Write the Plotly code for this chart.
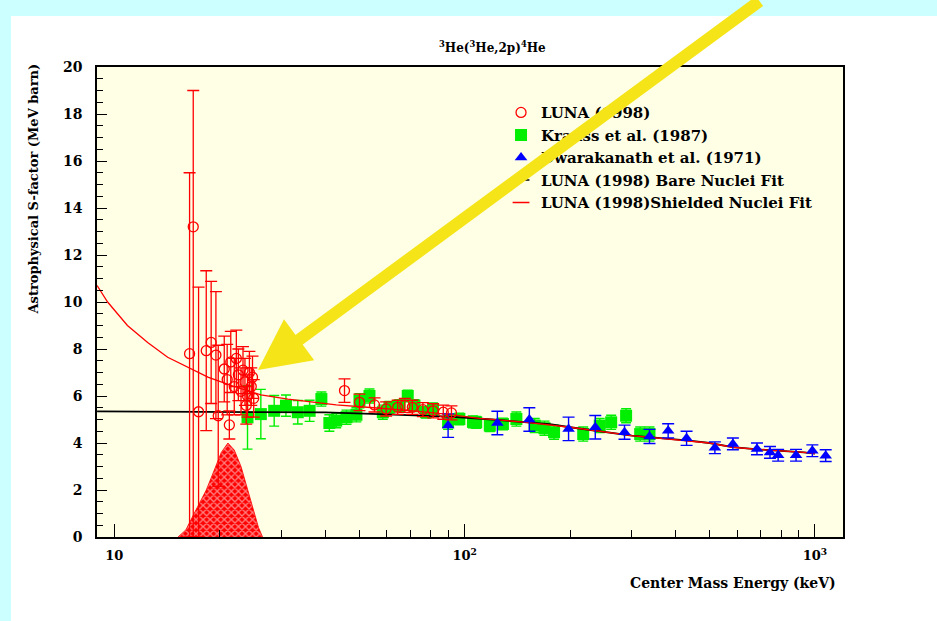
import plotly.graph_objects as go

# ---------------- data ----------------
luna_E = [16.4, 16.8, 17.4, 18.3, 18.9, 19.5, 19.8, 21.3, 20.6, 21.0, 21.5, 22.0, 22.3,
          22.6, 23.0, 23.3, 23.6, 24.0, 24.3, 24.6, 25.0, 24.8, 23.8,
          45.4, 50.1, 55.3, 59.7, 64.4, 67.5, 70.9, 76.0, 81.3, 86.9, 91.7]
luna_S = [7.8, 13.2, 5.33, 7.93, 8.28, 7.74, 5.16, 4.77, 7.15, 6.7, 7.45, 6.4, 7.6,
          6.9, 6.2, 7.1, 6.6, 6.0, 7.0, 6.4, 5.9, 6.8, 5.6,
          6.23, 5.73, 5.62, 5.45, 5.52, 5.6, 5.52, 5.42, 5.37, 5.31, 5.28]
luna_err_up = [7.7, 5.8, 5.3, 3.4, 2.6, 2.7, 3.0, 0.6, 1.4, 1.5, 1.3, 1.2, 1.2,
               1.1, 1.0, 1.0, 1.0, 0.9, 0.9, 0.8, 0.8, 0.9, 0.8,
               0.5, 0.35, 0.3, 0.3, 0.3, 0.3, 0.3, 0.3, 0.3, 0.3, 0.3]
luna_err_dn = [7.8, 13.2, 5.33, 3.4, 2.6, 2.7, 3.0, 0.6, 1.4, 1.5, 1.3, 1.2, 1.2,
               1.1, 1.0, 1.0, 1.0, 0.9, 0.9, 0.8, 0.8, 0.9, 0.8,
               0.5, 0.35, 0.3, 0.3, 0.3, 0.3, 0.3, 0.3, 0.3, 0.3, 0.3]

krauss_E = [24.0, 26.2, 28.6, 30.9, 33.4, 36.1, 39.0, 41.1, 43.0, 46.0, 49.1, 50.1,
            53.5, 58.4, 61.0, 65.1, 68.8, 71.9, 77.6, 81.2, 89.7, 96.6, 105.6,
            107.9, 118, 128.6, 140.5, 158.5, 169, 180, 218, 243, 262, 289, 317, 337]
krauss_S = [5.09, 5.23, 5.37, 5.59, 5.31, 5.37, 5.87, 4.85, 4.95, 5.1, 5.2, 5.8,
            6.0, 5.31, 5.52, 5.59, 6.0, 5.59, 5.31, 5.45, 4.88, 5.02, 4.9,
            4.88, 4.74, 4.81, 5.02, 4.74, 4.63, 4.46, 4.38, 4.74, 4.88, 5.16, 4.38, 4.38]
krauss_err = [1.35, 1.05, 0.65, 0.45, 0.5, 0.45, 0.3, 0.35, 0.3, 0.3, 0.3, 0.3,
              0.3, 0.3, 0.25, 0.25, 0.25, 0.25, 0.25, 0.25, 0.3, 0.25, 0.25,
              0.25, 0.25, 0.25, 0.3, 0.3, 0.3, 0.3, 0.3, 0.3, 0.3, 0.3, 0.3, 0.3]

dwar_E = [89.7, 124, 153, 198, 236, 286, 337, 381, 430, 518, 583, 683, 744, 785,
          883, 983, 1073]
dwar_S = [4.74, 4.85, 5.0, 4.6, 4.67, 4.46, 4.28, 4.52, 4.2, 3.8, 3.96, 3.75, 3.6,
          3.48, 3.48, 3.67, 3.46]
dwar_err = [0.5, 0.5, 0.5, 0.5, 0.5, 0.3, 0.3, 0.3, 0.3, 0.25, 0.25, 0.25, 0.25,
            0.25, 0.25, 0.25, 0.25]

bare_E = [8.93, 20, 40, 60, 90, 120, 175, 200, 300, 437, 500, 582, 700, 930, 1000]
bare_S = [5.35, 5.33, 5.3, 5.22, 5.12, 5.0, 4.8, 4.67, 4.31, 4.1, 4.0, 3.82, 3.72, 3.6, 3.55]

shield_E = [8.93, 9.57, 10.9, 12.45, 14.2, 16.2, 18.5, 21.5, 26.2, 31.3, 36.8, 43, 55,
            70, 90, 110, 150, 200, 300, 437, 500, 582, 700, 930, 1000]
shield_S = [10.7, 10.0, 9.0, 8.28, 7.65, 7.22, 6.8, 6.45, 6.05, 5.87, 5.73, 5.62, 5.5,
            5.38, 5.22, 5.05, 4.88, 4.67, 4.31, 4.1, 4.0, 3.82, 3.72, 3.6, 3.55]

gamow_E = [15.2, 16.0, 16.9, 17.7, 18.3, 19.0, 19.5, 20.2, 21.1, 22.0, 23.0, 24.0,
           25.1, 25.8, 26.5]
gamow_S = [0, 0.3, 1.0, 1.6, 2.0, 2.6, 3.0, 3.6, 4.0, 3.7, 3.0, 2.0, 1.0, 0.4, 0]

x_tickvals = [10, 100, 1000]
x_ticktext = ["10", "10<sup>2</sup>", "10<sup>3</sup>"]
x_minor = [20, 30, 40, 50, 60, 70, 80, 90, 200, 300, 400, 500, 600, 700, 800, 900]
y_tickvals = [0, 2, 4, 6, 8, 10, 12, 14, 16, 18, 20]

names = ["LUNA (1998)", "Krauss et al. (1987)", "Dwarakanath et al. (1971)",
         "LUNA (1998) Bare Nuclei Fit", "LUNA (1998)Shielded Nuclei Fit"]

FONT = "DejaVu Serif"

# ---------------- figure ----------------
fig = go.Figure()

fig.add_trace(go.Scatter(
    x=gamow_E, y=gamow_S, mode="lines", fill="toself",
    line=dict(color="red", width=0.8),
    fillcolor="red",
    fillpattern=dict(shape="x", fgcolor="white", bgcolor="red", size=5, solidity=0.45),
    showlegend=False, hoverinfo="skip"))

fig.add_trace(go.Scatter(
    x=krauss_E, y=krauss_S, mode="markers", name=names[1], legendrank=2,
    marker=dict(symbol="square", size=12, color="#00ee00"),
    error_y=dict(type="data", array=krauss_err, color="#00ee00", thickness=1.4, width=5)))

fig.add_trace(go.Scatter(
    x=bare_E, y=bare_S, mode="lines", showlegend=False,
    line=dict(color="black", width=1.8)))

fig.add_trace(go.Scatter(
    x=shield_E, y=shield_S, mode="lines", showlegend=False,
    line=dict(color="red", width=1.3)))

fig.add_trace(go.Scatter(
    x=dwar_E, y=dwar_S, mode="markers", name=names[2], legendrank=3,
    marker=dict(symbol="triangle-up", size=11, color="blue"),
    error_y=dict(type="data", array=dwar_err, color="blue", thickness=1.4, width=6)))

fig.add_trace(go.Scatter(
    x=luna_E, y=luna_S, mode="markers", name=names[0], legendrank=1,
    marker=dict(symbol="circle-open", size=10, color="red", line=dict(width=1.3)),
    error_y=dict(type="data", symmetric=False, array=luna_err_up,
                 arrayminus=luna_err_dn, color="red", thickness=1.3, width=6)))

# legend-only entries for the fit lines (short dash symbol)
fig.add_trace(go.Scatter(
    x=[None], y=[None], mode="markers", name=names[3], legendrank=4,
    marker=dict(symbol="line-ew-open", size=12, color="black", line=dict(width=1.5))))
fig.add_trace(go.Scatter(
    x=[None], y=[None], mode="markers", name=names[4], legendrank=5,
    marker=dict(symbol="line-ew-open", size=12, color="red", line=dict(width=1.5))))

fig.update_layout(
    width=937, height=621,
    margin=dict(l=97, r=94, t=67, b=84),
    paper_bgcolor="#ccffff",
    plot_bgcolor="#ffffe6",
    showlegend=True,
    legend=dict(x=0.5416, y=0.938, xanchor="left", yanchor="top",
                bgcolor="rgba(0,0,0,0)", itemwidth=30,
                font=dict(family=FONT, size=15, color="black", weight="bold")),
    shapes=[
        dict(type="rect", xref="paper", yref="paper", layer="below",
             x0=(11 - 97) / 746, x1=1.2, y0=-0.3, y1=(537 - 16) / 470,
             fillcolor="white", line=dict(width=0)),
        dict(type="rect", xref="paper", yref="paper", layer="below",
             x0=0, x1=1, y0=0, y1=1, fillcolor="#ffffe6", line=dict(width=0)),
    ],
    xaxis=dict(type="log", range=[0.9506, 3.08],
               tickmode="array", tickvals=x_tickvals, ticktext=x_ticktext,
               ticks="inside", ticklen=13, tickwidth=1.3, tickcolor="black",
               showgrid=False, zeroline=False,
               showline=True, linecolor="black", linewidth=1.5, mirror=True,
               ticklabelstandoff=6,
               tickfont=dict(family=FONT, size=13, color="black", weight="bold"),
               minor=dict(tickmode="array", tickvals=x_minor, ticks="inside",
                          ticklen=7, tickwidth=1.3, tickcolor="black", showgrid=False)),
    yaxis=dict(range=[0, 20], tickmode="array", tickvals=y_tickvals,
               ticks="inside", ticklen=10, tickwidth=1.3, tickcolor="black",
               showgrid=False, zeroline=False,
               showline=True, linecolor="black", linewidth=1.5, mirror=True,
               ticklabelstandoff=10,
               tickfont=dict(family=FONT, size=14, color="black", weight="bold"),
               minor=dict(dtick=0.5, ticks="inside", ticklen=6, tickwidth=1.3,
                          tickcolor="black", showgrid=False)),
    annotations=[
        dict(text="<sup>3</sup>He(<sup>3</sup>He,2p)<sup>4</sup>He", xref="paper", yref="paper",
             x=(492 - 97) / 746, y=(537 - 47) / 470, xanchor="center", yanchor="middle",
             showarrow=False, font=dict(family=FONT, size=12, color="black", weight="bold")),
        dict(text="Center Mass Energy (keV)", xref="paper", yref="paper",
             x=(838 - 97) / 746, y=(537 - 583) / 470, xanchor="right", yanchor="middle",
             showarrow=False, font=dict(family=FONT, size=14, color="black", weight="bold")),
        dict(text="Astrophysical S-factor (MeV barn)", xref="paper", yref="paper",
             x=(33 - 97) / 746, y=(537 - 62) / 470, xanchor="center", yanchor="top",
             textangle=-90, showarrow=False,
             font=dict(family=FONT, size=13, color="black", weight="bold")),
        dict(text="", xref="paper", yref="paper",
             x=(258 - 97) / 746, y=(537 - 370) / 470,
             showarrow=True, ax=503, ay=-392, axref="pixel", ayref="pixel",
             arrowhead=2, arrowsize=0.85, arrowwidth=12, arrowcolor="#f4e418",
             standoff=0, startstandoff=0),
    ],
)

fig.write_html("out.html")
